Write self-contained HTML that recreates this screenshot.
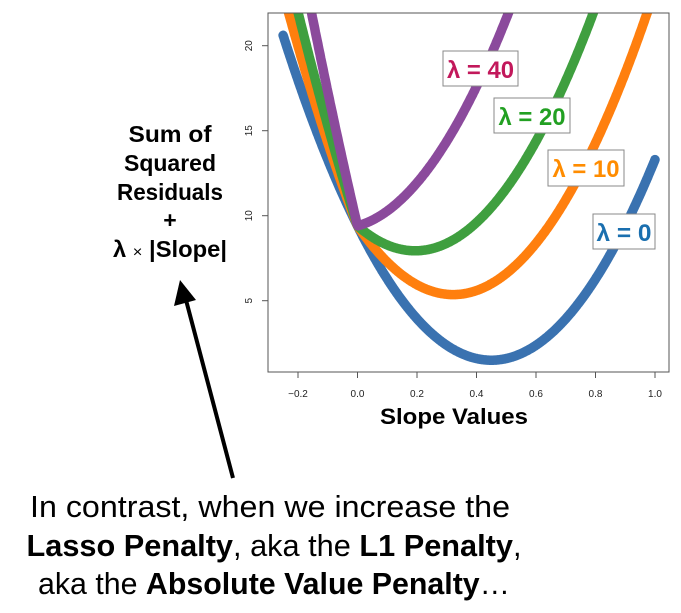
<!DOCTYPE html>
<html><head><meta charset="utf-8"><style>html,body{margin:0;padding:0;background:#fff}svg{display:block}</style></head>
<body>
<svg id="s" width="681" height="613" viewBox="0 0 681 613" xmlns="http://www.w3.org/2000/svg" font-family="Liberation Sans, sans-serif">
<defs><clipPath id="c"><rect x="268" y="13" width="401" height="359"/></clipPath></defs>
<rect width="681" height="613" fill="#fff"/>
<g clip-path="url(#c)" fill="none" stroke-width="9.5" stroke-linecap="round" stroke-linejoin="round" id="curves"></g>
<rect x="268" y="13" width="401" height="359" fill="none" stroke="#555" stroke-width="1"/>
<g stroke="#555" stroke-width="1">
<line x1="298" y1="372" x2="298" y2="378"/><line x1="357.5" y1="372" x2="357.5" y2="378"/><line x1="417" y1="372" x2="417" y2="378"/><line x1="476.5" y1="372" x2="476.5" y2="378"/><line x1="536" y1="372" x2="536" y2="378"/><line x1="595.5" y1="372" x2="595.5" y2="378"/><line x1="655" y1="372" x2="655" y2="378"/>
<line x1="262" y1="45.7" x2="268" y2="45.7"/><line x1="262" y1="130.7" x2="268" y2="130.7"/><line x1="262" y1="215.7" x2="268" y2="215.7"/><line x1="262" y1="300.7" x2="268" y2="300.7"/>
</g>
<g font-size="10" fill="#222" text-anchor="middle">
<text x="298" y="397">−0.2</text><text x="357.5" y="397">0.0</text><text x="417" y="397">0.2</text><text x="476.5" y="397">0.4</text><text x="536" y="397">0.6</text><text x="595.5" y="397">0.8</text><text x="655" y="397">1.0</text>
<text transform="translate(252,45.7) rotate(-90)">20</text><text transform="translate(252,130.7) rotate(-90)">15</text><text transform="translate(252,215.7) rotate(-90)">10</text><text transform="translate(252,300.7) rotate(-90)">5</text>
</g>
<text x="454" y="424" font-size="22" font-weight="bold" text-anchor="middle" textLength="148" lengthAdjust="spacingAndGlyphs">Slope Values</text>
<g font-weight="bold" font-size="24">
<rect x="443" y="51" width="75" height="35" fill="#fff" stroke="#888"/><text x="480.5" y="78" fill="#c2185b" text-anchor="middle" textLength="67" lengthAdjust="spacingAndGlyphs">λ = 40</text>
<rect x="494" y="98" width="76" height="35" fill="#fff" stroke="#888"/><text x="532" y="125" fill="#22a022" text-anchor="middle" textLength="67" lengthAdjust="spacingAndGlyphs">λ = 20</text>
<rect x="548" y="150" width="76" height="36" fill="#fff" stroke="#888"/><text x="586" y="177" fill="#ff8c00" text-anchor="middle" textLength="67" lengthAdjust="spacingAndGlyphs">λ = 10</text>
<rect x="593" y="214" width="62" height="35" fill="#fff" stroke="#888"/><text x="624" y="241" fill="#1a6faf" text-anchor="middle" textLength="55" lengthAdjust="spacingAndGlyphs">λ = 0</text>
</g>
<g font-weight="bold" font-size="23" text-anchor="middle">
<text x="170" y="142" textLength="83" lengthAdjust="spacingAndGlyphs">Sum of</text><text x="170" y="171" textLength="92" lengthAdjust="spacingAndGlyphs">Squared</text><text x="170" y="200" textLength="106" lengthAdjust="spacingAndGlyphs">Residuals</text><text x="170" y="228">+</text>
<text x="170" y="257" textLength="114" lengthAdjust="spacingAndGlyphs">λ <tspan font-weight="normal" font-size="16">×</tspan> |Slope|</text>
</g>
<line x1="233" y1="478" x2="186" y2="300" stroke="#000" stroke-width="4"/>
<polygon points="180,280 174,306 196,300" fill="#000"/>
<g font-size="31" text-anchor="middle">
<text x="270" y="517" textLength="480" lengthAdjust="spacingAndGlyphs">In contrast, when we increase the</text>
<text x="274" y="556" textLength="495" lengthAdjust="spacingAndGlyphs"><tspan font-weight="bold">Lasso Penalty</tspan>, aka the <tspan font-weight="bold">L1 Penalty</tspan>,</text>
<text x="274" y="594" textLength="472" lengthAdjust="spacingAndGlyphs">aka the <tspan font-weight="bold">Absolute Value Penalty</tspan>…</text>
</g>
<script>
var g=document.getElementById('curves');
function X(s){return 357.5+297.5*s}function Y(v){return 385.7-17*v}
var cs=[[0,'#3a72b0',-0.25,1.0],[10,'#ff7f0e',-0.3,1.0],[20,'#3f9f3f',-0.3,1.0],[40,'#8b4a9c',-0.3,1.0]];
cs.forEach(function(c){var d='';for(var i=0;i<=500;i++){var s=c[2]+(c[3]-c[2])*i/500;var v=39*(s-0.45)*(s-0.45)+1.5+c[0]*Math.abs(s);d+=(i?'L':'M')+X(s).toFixed(1)+' '+Y(v).toFixed(1);}
var p=document.createElementNS('http://www.w3.org/2000/svg','path');p.setAttribute('d',d);p.setAttribute('stroke',c[1]);g.appendChild(p);});
</script>
</svg>
</body></html>
